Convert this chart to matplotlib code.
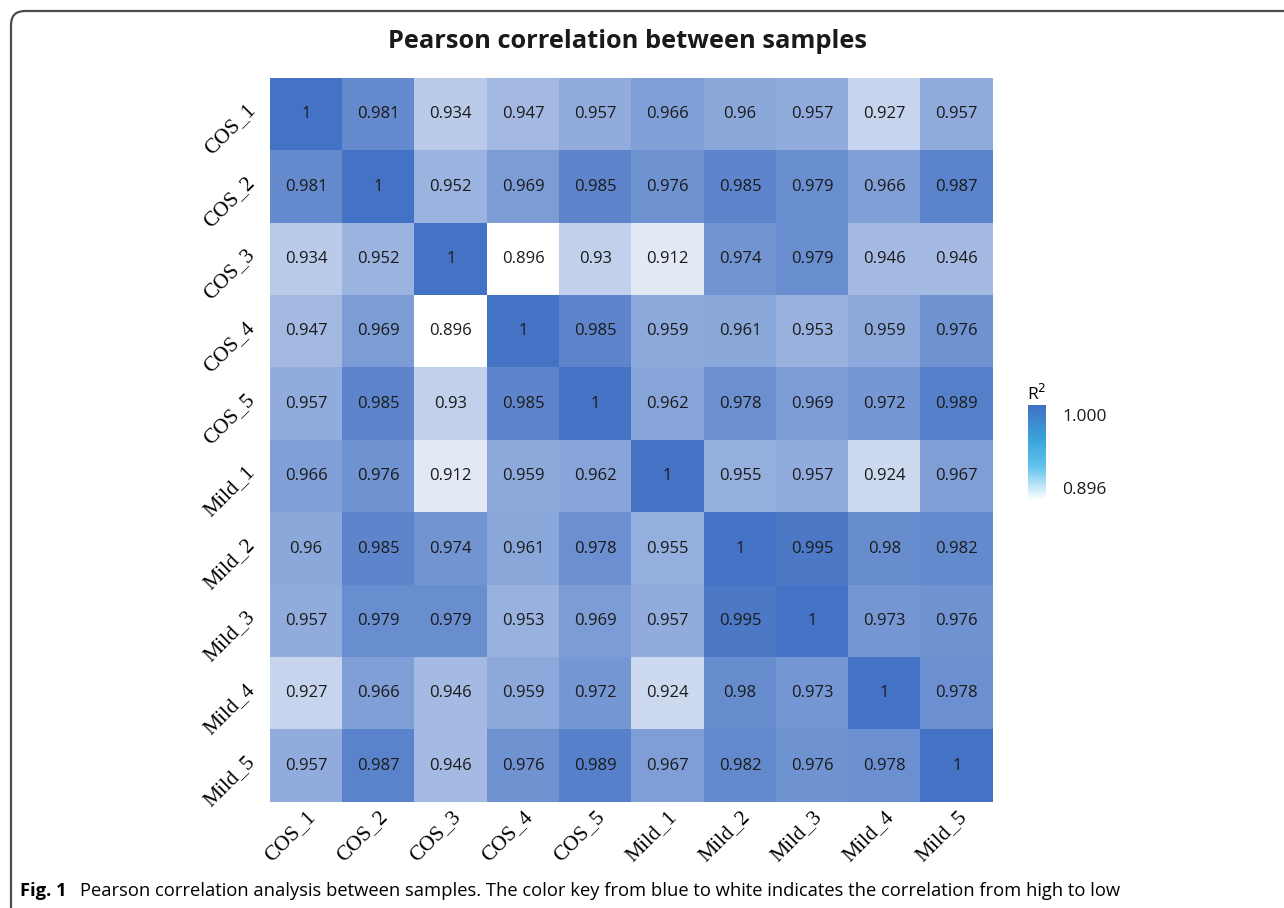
import numpy as np
import matplotlib
matplotlib.use("Agg")
import matplotlib.pyplot as plt
from matplotlib.colors import LinearSegmentedColormap, Normalize
from matplotlib.cm import ScalarMappable
from matplotlib.patches import FancyBboxPatch
from matplotlib.transforms import IdentityTransform

# Mostres i matriu de correlació llegida de la figura
samples = ["COS_1", "COS_2", "COS_3", "COS_4", "COS_5",
           "Mild_1", "Mild_2", "Mild_3", "Mild_4", "Mild_5"]

cos_1 = [1, 0.981, 0.934, 0.947, 0.957, 0.966, 0.96, 0.957, 0.927, 0.957]
cos_2 = [0.981, 1, 0.952, 0.969, 0.985, 0.976, 0.985, 0.979, 0.966, 0.987]
cos_3 = [0.934, 0.952, 1, 0.896, 0.93, 0.912, 0.974, 0.979, 0.946, 0.946]
cos_4 = [0.947, 0.969, 0.896, 1, 0.985, 0.959, 0.961, 0.953, 0.959, 0.976]
cos_5 = [0.957, 0.985, 0.93, 0.985, 1, 0.962, 0.978, 0.969, 0.972, 0.989]
mild_1 = [0.966, 0.976, 0.912, 0.959, 0.962, 1, 0.955, 0.957, 0.924, 0.967]
mild_2 = [0.96, 0.985, 0.974, 0.961, 0.978, 0.955, 1, 0.995, 0.98, 0.982]
mild_3 = [0.957, 0.979, 0.979, 0.953, 0.969, 0.957, 0.995, 1, 0.973, 0.976]
mild_4 = [0.927, 0.966, 0.946, 0.959, 0.972, 0.924, 0.98, 0.973, 1, 0.978]
mild_5 = [0.957, 0.987, 0.946, 0.976, 0.989, 0.967, 0.982, 0.976, 0.978, 1]

corr = np.array([cos_1, cos_2, cos_3, cos_4, cos_5,
                 mild_1, mild_2, mild_3, mild_4, mild_5])

vmin, vmax = 0.896, 1.0
cbar_labels = ["1.000", "0.896"]

cell_cmap = LinearSegmentedColormap.from_list("cells", ["#ffffff", "#4472c4"])
bar_cmap = LinearSegmentedColormap.from_list(
    "bar", [(0, "#ffffff"), (0.35, "#62c3ec"), (0.65, "#3aa2da"), (1, "#4170c4")])

fig = plt.figure(figsize=(12.84, 9.08), dpi=100)

# Marc arrodonit de la figura
frame = FancyBboxPatch((11, -60), 1400, 908 - 11 + 60,
                       boxstyle="round,pad=0,rounding_size=14",
                       transform=IdentityTransform(), fill=False,
                       edgecolor="#4d4d4d", linewidth=1.6)
fig.add_artist(frame)

ax = fig.add_axes([270 / 1284, 1 - 802 / 908, 723 / 1284, 724 / 908])
ax.imshow(corr, cmap=cell_cmap, vmin=vmin, vmax=vmax, aspect="auto",
          interpolation="nearest")

for i in range(len(samples)):
    for j in range(len(samples)):
        ax.text(j, i, f"{corr[i, j]:g}", ha="center", va="center",
                fontsize=12, color="#1a1a1a", family="Open Sans")

ax.set_xticks(range(len(samples)))
ax.set_yticks(range(len(samples)))
ax.set_xticklabels(samples, rotation=45, ha="right", va="top",
                   rotation_mode="anchor", family="Liberation Serif", fontsize=15.5)
ax.set_yticklabels(samples, rotation=45, ha="right", va="bottom",
                   rotation_mode="anchor", family="Liberation Serif", fontsize=15.5)
ax.tick_params(axis="x", length=0, pad=4)
ax.tick_params(axis="y", length=0, pad=8)
for s in ax.spines.values():
    s.set_visible(False)

fig.text(628 / 1284, 1 - 41 / 908, "Pearson correlation between samples",
         ha="center", va="center", fontsize=18.3, fontweight="bold",
         family="Open Sans", color="#1a1a1a")

# Barra de colors
cax = fig.add_axes([1028 / 1284, 1 - 500 / 908, 18 / 1284, 95 / 908])
sm = ScalarMappable(norm=Normalize(vmin, vmax), cmap=bar_cmap)
cb = fig.colorbar(sm, cax=cax)
cb.set_ticks([])
cb.outline.set_visible(False)
cax.text(1.9, 0.87, cbar_labels[0], transform=cax.transAxes, ha="left",
         va="center", family="Open Sans", fontsize=12.5, color="#1a1a1a")
cax.text(1.9, 0.10, cbar_labels[1], transform=cax.transAxes, ha="left",
         va="center", family="Open Sans", fontsize=12.5, color="#1a1a1a")
fig.text(1037 / 1284, 1 - 394 / 908, "R$^2$", ha="center", va="center",
         fontsize=12.5, family="Open Sans")

# Peu de figura
fig.text(20 / 1284, 1 - 891 / 908, "Fig. 1", ha="left", va="center",
         fontsize=13.2, fontweight="bold", family="Open Sans")
fig.text(80 / 1284, 1 - 891 / 908,
         "Pearson correlation analysis between samples. The color key from blue to white "
         "indicates the correlation from high to low",
         ha="left", va="center", fontsize=13.2, family="Open Sans")

fig.savefig("out.png", dpi=100)
